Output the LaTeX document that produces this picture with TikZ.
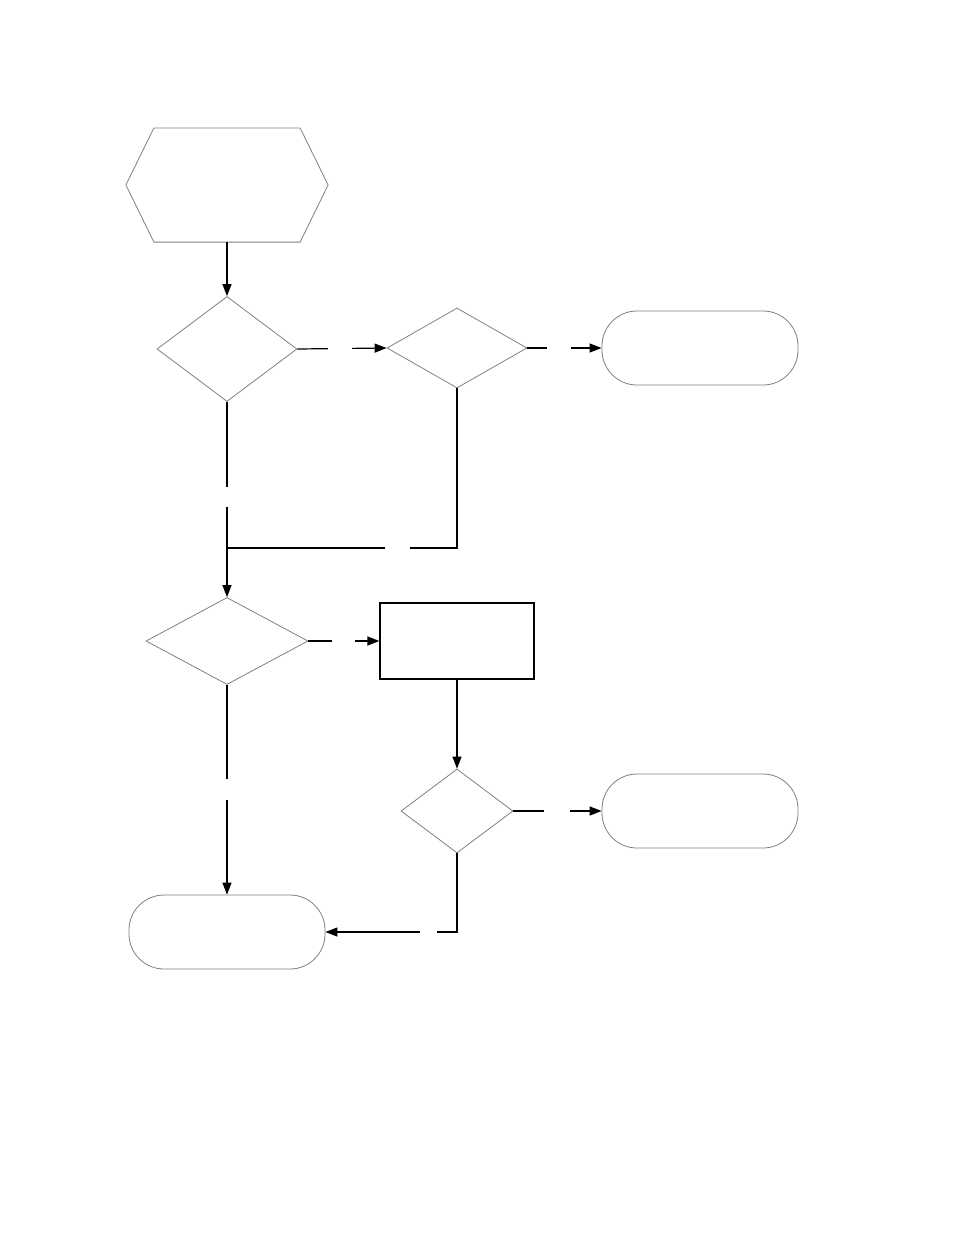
\documentclass[tikz,border=0pt]{standalone}
\usetikzlibrary{shapes.geometric, arrows.meta}

\begin{document}
\begin{tikzpicture}[x=1pt, y=-1pt, line width=1.2pt,
    decision/.style={diamond, draw=gray, line width=0.8pt, aspect=1.3, inner sep=0pt},
    terminal/.style={rectangle, rounded corners=35pt, draw=gray, line width=0.8pt, minimum width=196pt, minimum height=74pt},
    process/.style={rectangle, draw=black, line width=1.2pt, minimum width=154pt, minimum height=76pt},
    prep/.style={rectangle, minimum width=201pt, minimum height=113pt},
    gap/.style={fill=white, inner sep=0pt, minimum size=#1},
    flow/.style={-{Triangle[length=12pt, width=9pt]}}]
    \useasboundingbox (0,0) rectangle (954,1235);

    \node[prep] (start) at (227,185) {};
    \draw[gray, line width=0.8pt] ([xshift=28pt]start.north west) -- ([xshift=-28pt]start.north east)
        -- (start.east) -- ([xshift=-28pt]start.south east) -- ([xshift=28pt]start.south west)
        -- (start.west) -- cycle;
    \node[decision, minimum width=140pt, minimum height=105pt] (check1) at (227,349) {};
    \node[decision, minimum width=140pt, minimum height=80pt] (check2) at (457,348) {};
    \node[terminal] (stop1) at (700,348) {};
    \node[decision, minimum width=162pt, minimum height=87pt] (check3) at (227,641) {};
    \node[process] (task) at (457,641) {};
    \node[decision, minimum width=112pt, minimum height=84pt] (check4) at (457,811) {};
    \node[terminal] (stop2) at (700,811) {};
    \node[terminal] (finish) at (227,932) {};
    \coordinate (merge) at (227,548);

    \draw[flow] (start) -- (check1);
    \draw[flow] (check1.east) -- node[gap=24pt, pos=0.48] {} (check2.west);
    \draw[flow] (check2.east) -- node[gap=24pt, pos=0.43] {} (stop1.west);
    \draw[flow] (check1.south) -- node[gap=20pt, pos=0.65] {} (merge) -- (check3.north);
    \draw (check2.south) |- node[gap=25pt, pos=0.63] {} (merge);
    \draw[flow] (check3.east) -- node[gap=23pt, pos=0.49] {} (task.west);
    \draw[flow] (task.south) -- (check4.north);
    \draw[flow] (check3.south) -- node[gap=21pt, pos=0.5] {} (finish.north);
    \draw[flow] (check4.east) -- node[gap=26pt, pos=0.49] {} (stop2.west);
    \draw[flow] (check4.south) |- node[gap=17pt, pos=0.61] {} (finish.east);
\end{tikzpicture}
\end{document}
